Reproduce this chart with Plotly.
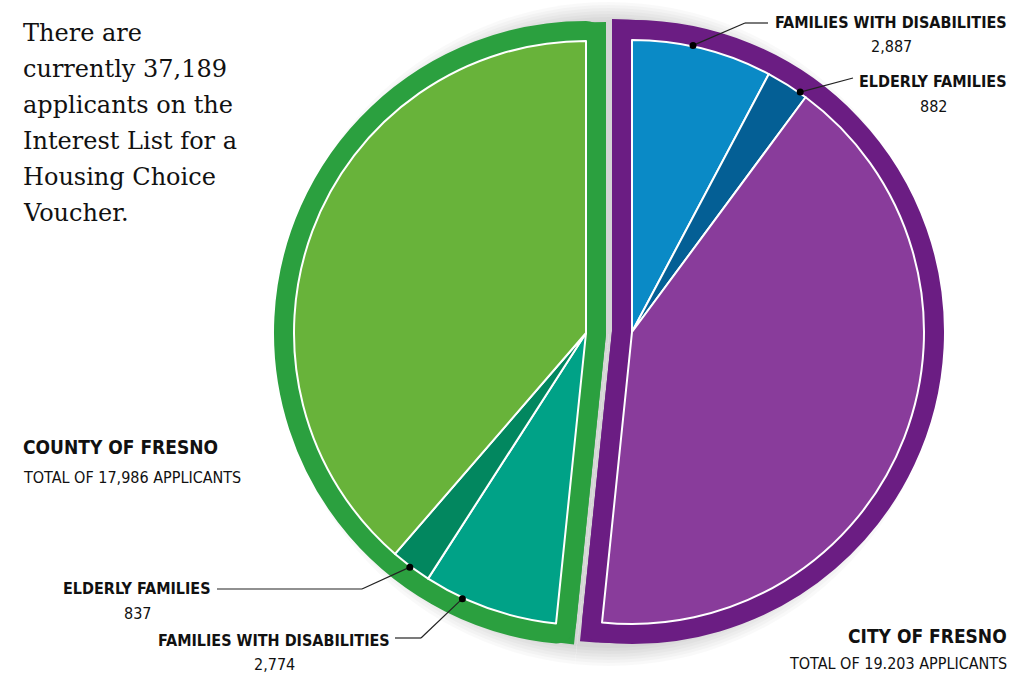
import math
import plotly.graph_objects as go

# ---- data ----
groups = ["CITY OF FRESNO", "COUNTY OF FRESNO"]
group_totals = [19203, 17986]
city_labels = ["FAMILIES WITH DISABILITIES", "ELDERLY FAMILIES", "OTHER"]
city_values = [2887, 882]
county_labels = ["FAMILIES WITH DISABILITIES", "ELDERLY FAMILIES", "OTHER"]
county_values = [2774, 837]
total_applicants = 37189

city_other = group_totals[0] - sum(city_values)
county_other = group_totals[1] - sum(county_values)

# ---- styling ----
W, H = 1012, 674
R = 292
RING = 20
CITY_C = (632, 332)
COUNTY_C = (586, 333)
TRANSP = "rgba(0,0,0,0)"
PURPLE_RING = "#6b1d83"
GREEN_RING = "#2ba03f"
city_colors = ["#0a8ac6", "#045f95", "#893c9b"]
county_colors = ["#00a287", "#02875f", "#68b33a"]
COND = "Liberation Sans Narrow, Arial Narrow, DejaVu Sans Condensed, sans-serif"
SERIF = "DejaVu Serif, serif"
tot = sum(group_totals)


def clamp(v):
    return min(1.0, max(0.0, v))


def dom(c, r=R):
    cx, cy = c
    return dict(x=[clamp((cx - r) / W), clamp((cx + r) / W)],
                y=[clamp(1 - (cy + r) / H), clamp(1 - (cy - r) / H)])


def px(x):
    return x / W


def py(y):
    return 1 - y / H


def unit(deg):
    a = math.radians(deg)
    return math.sin(a), -math.cos(a)


def shifted_apex(center, v0, v1, d=RING):
    a0 = v0 / tot * 360
    a1 = v1 / tot * 360
    h = math.radians((a1 - a0) / 2)
    ux, uy = unit((a0 + a1) / 2)
    s = d / math.sin(h)
    return center[0] - s * ux, center[1] - s * uy


common = dict(sort=False, direction="clockwise", rotation=0, textinfo="none",
              hoverinfo="skip", showlegend=False)

fig = go.Figure()
# soft shadow behind the whole pie
mid_c = ((CITY_C[0] + COUNTY_C[0]) / 2, 334)
for k in range(7):
    rr = R + RING + 2 + 3 * (6 - k)
    fig.add_trace(go.Pie(values=group_totals, labels=groups, domain=dom(mid_c, rr),
                         marker=dict(colors=["rgba(0,0,0,0.024)"] * 2, line=dict(width=0)), **common))

# outer rings (sharp corners from a shifted sector + stroked sector)
city_apex = shifted_apex(CITY_C, 0, group_totals[0])
county_apex = shifted_apex(COUNTY_C, group_totals[0], tot)
fig.add_trace(go.Pie(values=group_totals, labels=groups, domain=dom(city_apex, R + RING),
                     marker=dict(colors=[PURPLE_RING, TRANSP], line=dict(width=0)), **common))
fig.add_trace(go.Pie(values=group_totals, labels=groups, domain=dom(county_apex, R + RING),
                     marker=dict(colors=[TRANSP, GREEN_RING], line=dict(width=0)), **common))
fig.add_trace(go.Pie(values=group_totals, labels=groups, domain=dom(CITY_C),
                     marker=dict(colors=[PURPLE_RING, TRANSP],
                                 line=dict(color=[PURPLE_RING, TRANSP], width=2 * RING)), **common))
fig.add_trace(go.Pie(values=group_totals, labels=groups, domain=dom(COUNTY_C),
                     marker=dict(colors=[TRANSP, GREEN_RING],
                                 line=dict(color=[TRANSP, GREEN_RING], width=2 * RING)), **common))
# inner slices
fig.add_trace(go.Pie(values=city_values + [city_other, group_totals[1]],
                     labels=["c_" + l for l in city_labels] + ["rest"],
                     domain=dom(CITY_C),
                     marker=dict(colors=city_colors + [TRANSP],
                                 line=dict(color=["white"] * 3 + [TRANSP], width=2)), **common))
fig.add_trace(go.Pie(values=[group_totals[0]] + county_values + [county_other],
                     labels=["rest"] + ["k_" + l for l in county_labels],
                     domain=dom(COUNTY_C),
                     marker=dict(colors=[TRANSP] + county_colors,
                                 line=dict(color=[TRANSP] + ["white"] * 3, width=2)), **common))


# ---- leader lines anchored on slice angles ----
def slice_point(center, start_val, val, frac, r=R + 1):
    ang = (start_val + frac * val) / tot * 2 * math.pi
    return center[0] + r * math.sin(ang), center[1] - r * math.cos(ang)


anchors = [
    (slice_point(CITY_C, 0, city_values[0], 0.43), [(745, 23), (768, 23)]),
    (slice_point(CITY_C, city_values[0], city_values[1], 0.83), [(853, 78)]),
    (slice_point(COUNTY_C, group_totals[0] + county_values[0], county_values[1], 0.52), [(362, 589), (217, 589)]),
    (slice_point(COUNTY_C, group_totals[0], county_values[0], 0.71), [(421, 638), (395, 638)]),
]
shapes = []
for (dx, dy), pts in anchors:
    prev = (dx, dy)
    for p in pts:
        shapes.append(dict(type="line", xref="paper", yref="paper",
                           x0=px(prev[0]), y0=py(prev[1]), x1=px(p[0]), y1=py(p[1]),
                           line=dict(color="#222222", width=1.2), layer="above"))
        prev = p
    rr = 3.5
    shapes.append(dict(type="circle", xref="paper", yref="paper",
                       x0=px(dx - rr), x1=px(dx + rr), y0=py(dy + rr), y1=py(dy - rr),
                       fillcolor="black", line=dict(width=0), layer="above"))

annotations = []


def ann(text, x, y, size, bold=False, xanchor="center", font=COND):
    if xanchor == "left":
        x -= 2
    elif xanchor == "right":
        x += 2
    annotations.append(dict(text=f"<b>{text}</b>" if bold else text, x=px(x), y=py(y),
                            xref="paper", yref="paper", xanchor=xanchor, yanchor="middle",
                            showarrow=False, font=dict(family=font, size=size, color="#111111")))


ann(city_labels[0], 1007, 22, 16, True, "right")
ann(f"{city_values[0]:,}", 891, 46, 16)
ann(city_labels[1], 1007, 82, 16, True, "right")
ann(f"{city_values[1]:,}", 933, 107, 16)
ann(county_labels[1], 137, 588, 16, True)
ann(f"{county_values[1]:,}", 137, 613, 16)
ann(county_labels[0], 274, 640, 16, True)
ann(f"{county_values[0]:,}", 274, 664, 16)
ann(groups[1], 23, 447, 19, True, "left")
ann(f"TOTAL OF {group_totals[1]:,} APPLICANTS", 23, 478, 16, False, "left")
ann(groups[0], 1007, 636, 19, True, "right")
ann(f"TOTAL OF {group_totals[0]:,} APPLICANTS".replace(",", "."), 1007, 663, 16, False, "right")

intro = ["There are", f"currently {total_applicants:,}", "applicants on the",
         "Interest List for a", "Housing Choice", "Voucher."]
for i, line in enumerate(intro):
    ann(line, 23, 33 + 36 * i, 24, False, "left", SERIF)

fig.update_layout(width=W, height=H, margin=dict(l=0, r=0, t=0, b=0),
                  paper_bgcolor="white", plot_bgcolor="white",
                  shapes=shapes, annotations=annotations)
fig.write_html("out.html")
